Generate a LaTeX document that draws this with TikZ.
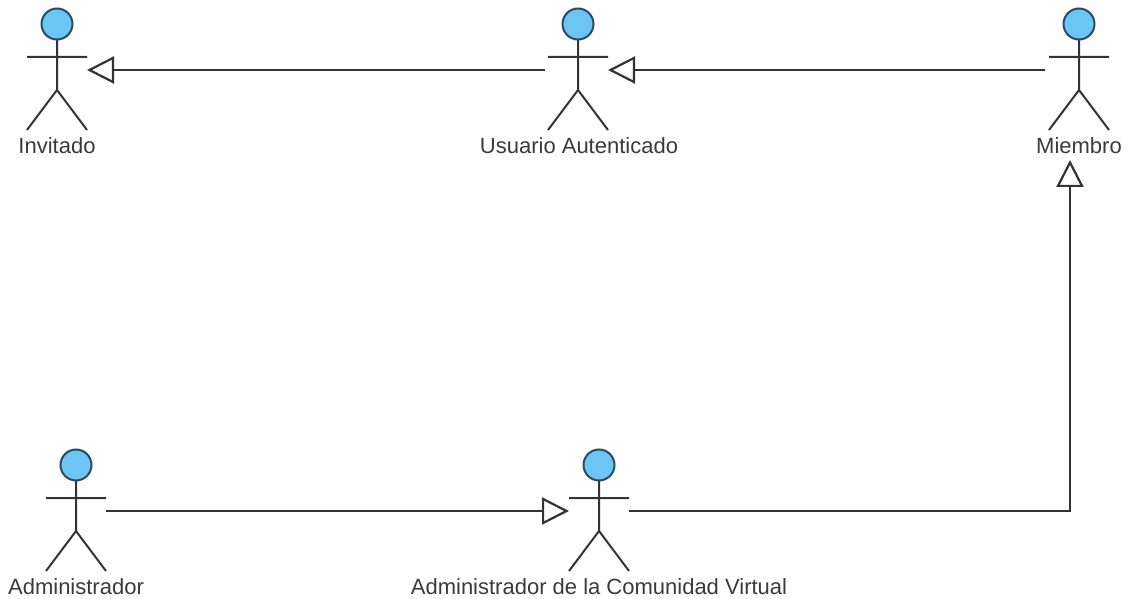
\documentclass[tikz,border=0pt]{standalone}
\usepackage{fontspec}
\setmainfont{Liberation Sans}
\usetikzlibrary{arrows.meta}
\definecolor{headfill}{HTML}{6CC6F5}
\definecolor{headline}{HTML}{2B4A5E}
\definecolor{stroke}{HTML}{333333}
\definecolor{labelcol}{HTML}{3A3A3A}
\tikzset{
  x=1pt,y=-1pt,
  limb/.style={draw=stroke,line width=2pt},
  headshape/.style={circle,draw=headline,fill=headfill,line width=2pt,minimum size=31pt,inner sep=0pt},
  actorbox/.style={rectangle,minimum width=60pt,minimum height=124pt,inner sep=0pt,outer sep=0pt},
  actorlabel/.style={font=\fontsize{22}{26}\selectfont,text=labelcol,inner sep=0pt,anchor=center},
  generalize/.style={draw=stroke,line width=2.2pt,-{Triangle[open,fill=white,length=27pt,width=27pt,line width=2.2pt]}},
}
% name, x, y of head centre, label, label x, label y
\newcommand{\umlactor}[6]{
  \node[actorbox] (#1) at (#2,#3+46) {};
  \draw[limb] (#2,#3+16) -- (#2,#3+66) (#2-30,#3+33) -- (#2+30,#3+33)
     (#2-30,#3+106) -- (#2,#3+66) -- (#2+30,#3+106);
  \node[headshape] (#1head) at (#2,#3) {};
  \node[actorlabel] (#1label) at (#5,#6) {#4};
}
\begin{document}
\begin{tikzpicture}
\useasboundingbox (0,0) rectangle (1128,599);
\umlactor{inv}{57}{24}{Invitado}{57}{146}
\umlactor{usu}{578}{24}{Usuario Autenticado}{579}{146}
\umlactor{mie}{1079}{24}{Miembro}{1079}{146}
\umlactor{adm}{76}{465}{Administrador}{76}{587}
\umlactor{com}{599}{465}{Administrador de la Comunidad Virtual}{599}{587}
\coordinate (bend) at (1070,511);
\coordinate (mietip) at (1070,160);
\draw[generalize,shorten <=3pt] (usu.west) -- (inv.east);
\draw[generalize,shorten <=4pt] (mie.west) -- (usu.east);
\draw[generalize] (adm.east) -- (com.west);
\draw[generalize] (com.east) -- (bend) -- (mietip);
\end{tikzpicture}
\end{document}
